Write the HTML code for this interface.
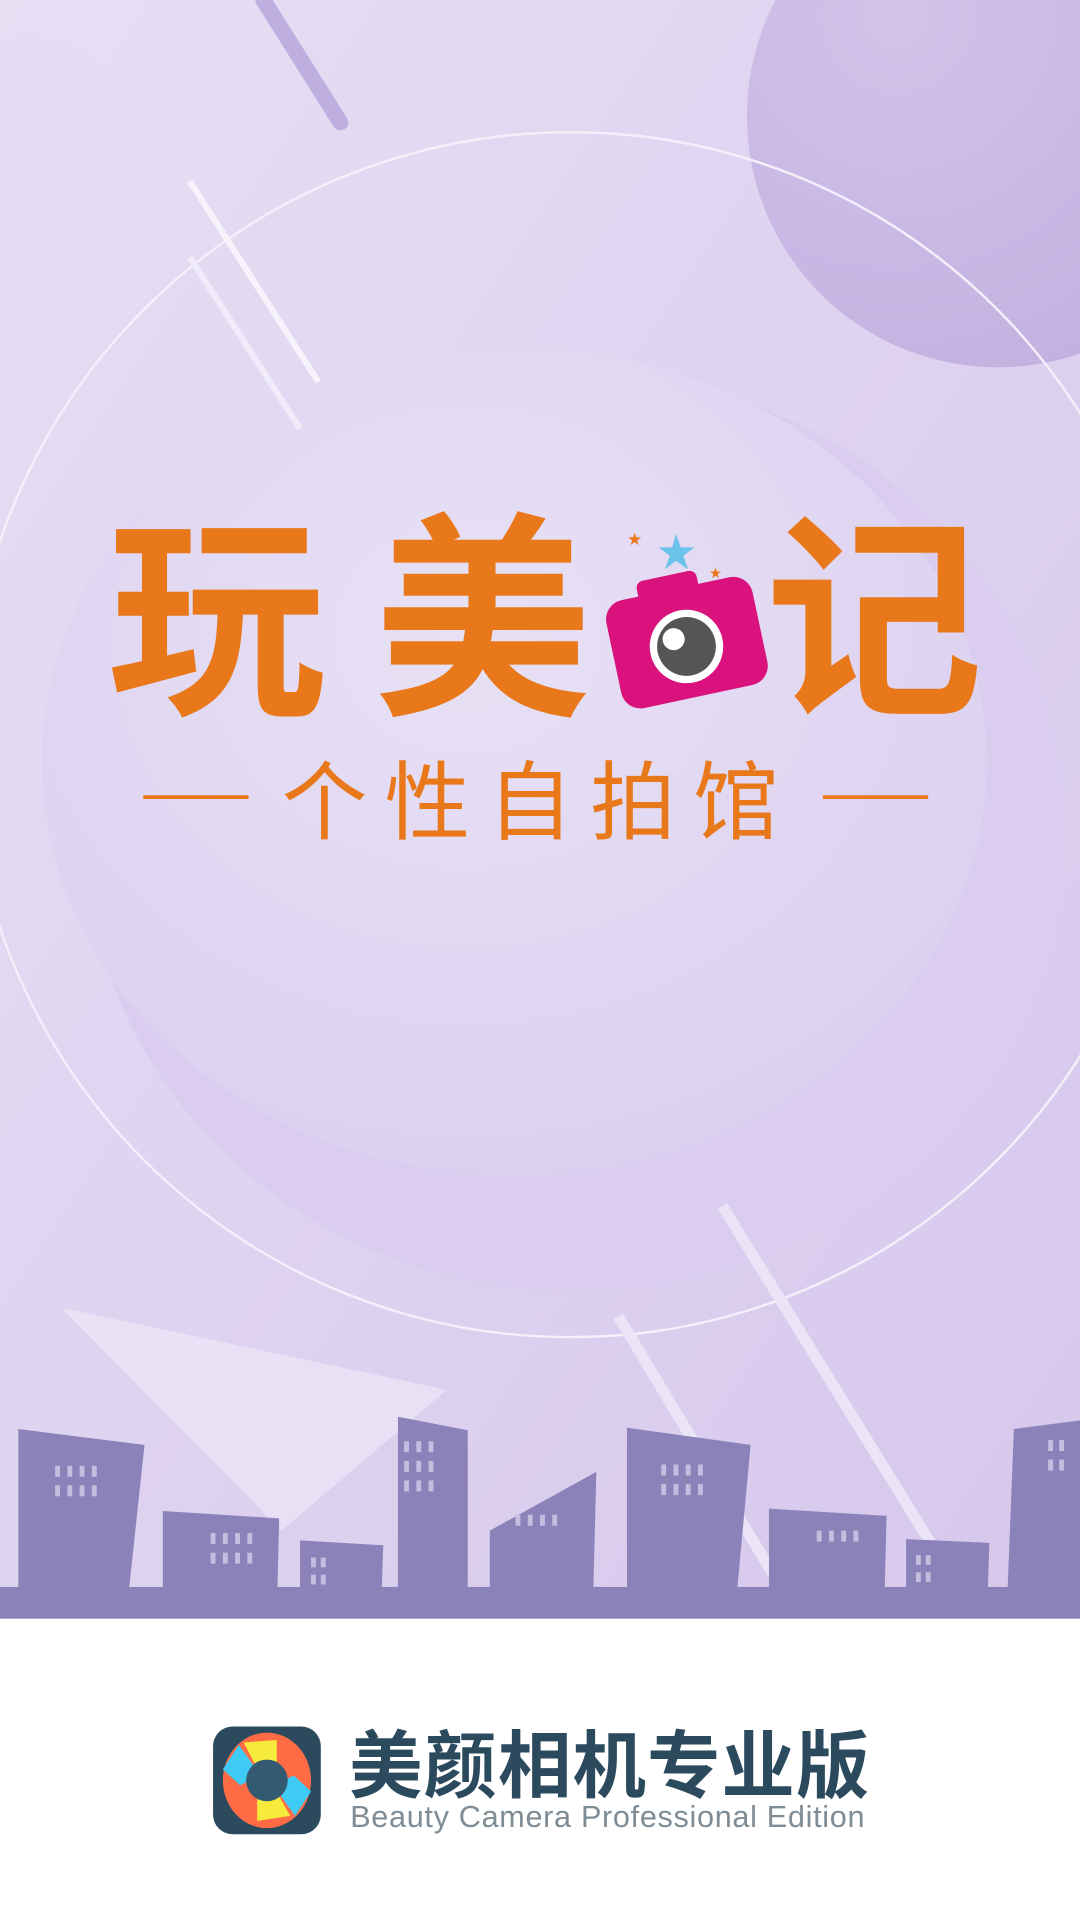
<!DOCTYPE html>
<html><head><meta charset="utf-8"><style>
html,body{margin:0;padding:0;background:#fff}
svg{display:block}
</style></head><body>
<svg width="1080" height="1920" viewBox="0 0 882 1568" xmlns="http://www.w3.org/2000/svg">
<defs>
<linearGradient id="bg" x1="0" y1="0" x2="1" y2="1"><stop offset="0" stop-color="#e6dff4"/><stop offset="1" stop-color="#d6c7ec"/></linearGradient>
<radialGradient id="disk" cx="0.45" cy="0.35" r="0.7"><stop offset="0" stop-color="#e8e1f5"/><stop offset="1" stop-color="#dbcff0"/></radialGradient>
<radialGradient id="tr" cx="0.3" cy="0.3" r="0.8"><stop offset="0" stop-color="#d2c3ea"/><stop offset="1" stop-color="#c3b0e0"/></radialGradient>
</defs>
<rect x="0" y="0" width="882" height="1322" fill="url(#bg)"/>
<circle cx="815" cy="95" r="205" fill="url(#tr)"/>
<circle cx="25" cy="110" r="80" fill="#e4dcf3"/>
<line x1="215" y1="0" x2="278" y2="100" stroke="#bfaee0" stroke-width="13" stroke-linecap="round"/>
<circle cx="466" cy="600" r="492" fill="none" stroke="#f4f0fb" stroke-width="2"/>
<ellipse cx="470" cy="680" rx="400" ry="375" fill="#dacdef"/>
<ellipse cx="420" cy="622" rx="386" ry="338" fill="url(#disk)"/>
<line x1="155" y1="148" x2="260" y2="312" stroke="#f6f3fc" stroke-width="5"/>
<line x1="155" y1="210" x2="245" y2="350" stroke="#f1ecfa" stroke-width="5"/>
<polygon points="50,1068 365,1135 230,1250" fill="#ebe5f6" opacity="0.8"/>
<line x1="590" y1="985" x2="760" y2="1260" stroke="#ebe4f6" stroke-width="9"/>
<line x1="505" y1="1075" x2="640" y2="1300" stroke="#ebe4f6" stroke-width="9"/>
<g font-family="'WenQuanYi Zen Hei','Noto Sans CJK SC',sans-serif" fill="#e8781a" font-weight="bold">
<text x="88" y="570" font-size="178">玩</text>
<text x="305" y="570" font-size="178">美</text>
<text x="625" y="570" font-size="178">记</text>
</g>
<g transform="rotate(-12 560 525)">
<rect x="500" y="480" width="122" height="90" rx="16" fill="#d9127e"/>
<rect x="530" y="468" width="50" height="20" rx="6" fill="#d9127e"/>
<circle cx="560" cy="528" r="30" fill="#fff"/>
<circle cx="560" cy="528" r="24" fill="#555"/>
<circle cx="551" cy="520" r="9" fill="#fff"/>
</g>
<polygon points="552,436 556,447 567,447 558,454 562,465 552,458 543,465 547,454 538,447 549,447" fill="#6bc3ec"/>
<text x="512" y="445" font-size="14" fill="#e8781a">★</text>
<text x="579" y="472" font-size="12" fill="#e8781a">★</text>
<line x1="117" y1="651" x2="203" y2="651" stroke="#e8781a" stroke-width="3"/>
<line x1="672" y1="651" x2="758" y2="651" stroke="#e8781a" stroke-width="3"/>
<text x="440" y="680" text-anchor="middle" font-size="70" letter-spacing="14" fill="#e8781a" font-family="'WenQuanYi Zen Hei','Noto Sans CJK SC',sans-serif">个性自拍馆</text>
<g fill="#8a82b9">
<rect x="0" y="1296" width="882" height="26"/>
<polygon points="15,1167 118,1180 103,1320 15,1320"/>
<polygon points="133,1234 228,1240 226,1320 133,1320"/>
<polygon points="245,1258 313,1262 311,1320 245,1320"/>
<polygon points="325,1157 382,1168 382,1320 325,1320"/>
<polygon points="400,1250 487,1202 484,1320 400,1320"/>
<polygon points="512,1166 613,1180 600,1320 512,1320"/>
<polygon points="628,1232 724,1238 722,1320 628,1320"/>
<polygon points="740,1257 808,1260 806,1320 740,1320"/>
<polygon points="828,1167 882,1160 882,1320 822,1320"/>
</g>
<g fill="#c4bde0">
<rect x="45" y="1197" width="4" height="9"/><rect x="55" y="1197" width="4" height="9"/><rect x="65" y="1197" width="4" height="9"/><rect x="75" y="1197" width="4" height="9"/>
<rect x="45" y="1213" width="4" height="9"/><rect x="55" y="1213" width="4" height="9"/><rect x="65" y="1213" width="4" height="9"/><rect x="75" y="1213" width="4" height="9"/>
<rect x="172" y="1252" width="4" height="9"/><rect x="182" y="1252" width="4" height="9"/><rect x="192" y="1252" width="4" height="9"/><rect x="202" y="1252" width="4" height="9"/>
<rect x="172" y="1268" width="4" height="9"/><rect x="182" y="1268" width="4" height="9"/><rect x="192" y="1268" width="4" height="9"/><rect x="202" y="1268" width="4" height="9"/>
<rect x="254" y="1272" width="4" height="8"/><rect x="262" y="1272" width="4" height="8"/><rect x="254" y="1286" width="4" height="8"/><rect x="262" y="1286" width="4" height="8"/>
<rect x="330" y="1177" width="4" height="9"/><rect x="340" y="1177" width="4" height="9"/><rect x="350" y="1177" width="4" height="9"/>
<rect x="330" y="1193" width="4" height="9"/><rect x="340" y="1193" width="4" height="9"/><rect x="350" y="1193" width="4" height="9"/>
<rect x="330" y="1209" width="4" height="9"/><rect x="340" y="1209" width="4" height="9"/><rect x="350" y="1209" width="4" height="9"/>
<rect x="421" y="1237" width="4" height="9"/><rect x="431" y="1237" width="4" height="9"/><rect x="441" y="1237" width="4" height="9"/><rect x="451" y="1237" width="4" height="9"/>
<rect x="540" y="1196" width="4" height="9"/><rect x="550" y="1196" width="4" height="9"/><rect x="560" y="1196" width="4" height="9"/><rect x="570" y="1196" width="4" height="9"/>
<rect x="540" y="1212" width="4" height="9"/><rect x="550" y="1212" width="4" height="9"/><rect x="560" y="1212" width="4" height="9"/><rect x="570" y="1212" width="4" height="9"/>
<rect x="667" y="1250" width="4" height="9"/><rect x="677" y="1250" width="4" height="9"/><rect x="687" y="1250" width="4" height="9"/><rect x="697" y="1250" width="4" height="9"/>
<rect x="748" y="1270" width="4" height="8"/><rect x="756" y="1270" width="4" height="8"/><rect x="748" y="1284" width="4" height="8"/><rect x="756" y="1284" width="4" height="8"/>
<rect x="856" y="1176" width="4" height="9"/><rect x="865" y="1176" width="4" height="9"/><rect x="856" y="1192" width="4" height="9"/><rect x="865" y="1192" width="4" height="9"/>
</g>
<rect x="0" y="1322" width="882" height="246" fill="#fff"/>
<g>
<rect x="174" y="1410" width="88" height="88" rx="16" fill="#2b4a5e"/>
<ellipse cx="218" cy="1454" rx="36" ry="39" fill="#ff6b45"/>
<polygon points="199,1423 226,1421 226,1448 212,1448" fill="#f6ea3a"/>
<polygon points="237,1483 210,1487 210,1460 224,1460" fill="#f6ea3a"/>
<polygon points="182,1445 195,1425 213,1450 196,1458" fill="#3ecbf6"/>
<polygon points="254,1463 241,1483 223,1458 240,1450" fill="#3ecbf6"/>
<circle cx="218" cy="1454" r="17" fill="#345a72"/>
</g>
<text x="285" y="1463" font-size="60" font-weight="bold" fill="#2b4a5e" font-family="'WenQuanYi Zen Hei','Noto Sans CJK SC',sans-serif" textLength="425">美颜相机专业版</text>
<text x="286" y="1492" font-size="25" fill="#7e8c96" font-family="'Liberation Sans',sans-serif" textLength="420">Beauty Camera Professional Edition</text>
</svg>
</body></html>
